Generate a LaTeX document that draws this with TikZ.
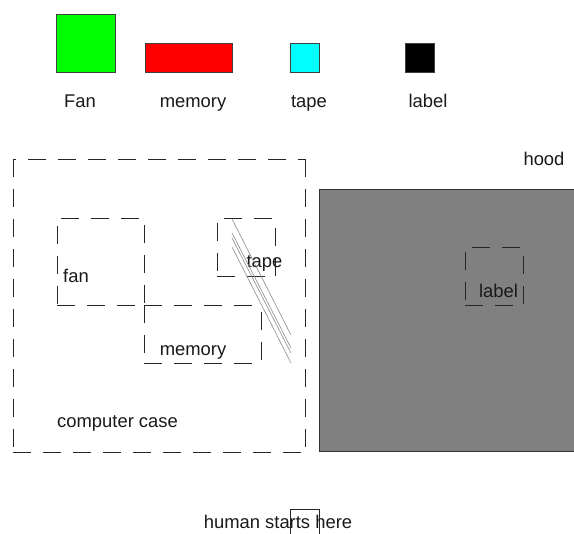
\documentclass[tikz,border=0pt]{standalone}
\usepackage{fontspec}
\setmainfont{Liberation Sans}
\definecolor{swgreen}{RGB}{0,255,0}
\definecolor{swred}{RGB}{255,0,0}
\definecolor{swcyan}{RGB}{0,255,255}
\definecolor{hoodgray}{RGB}{128,128,128}
\begin{document}
\begin{tikzpicture}[x=1pt,y=-1pt,
  txt/.style={font=\fontsize{18.4}{20}\selectfont, inner sep=0pt, anchor=base, text=black!90},
  swatch/.style={draw=black!75, line width=0.8pt},
  dsh/.style={draw=black!85, line width=0.9pt, dash pattern=on 18pt off 12pt, dash phase=#1},
  strap/.style={draw=black!45, line width=0.6pt}]
\clip (0,0) rectangle (574,534);
\fill[white] (0,0) rectangle (574,534);

% legend swatches
\draw[swatch, fill=swgreen] (56,14) rectangle (115,72);
\draw[swatch, fill=swred] (145,43) rectangle (232,72);
\draw[swatch, fill=swcyan] (290,43) rectangle (319,72);
\draw[swatch, fill=black] (405,43) rectangle (434,72);
\node[txt] (lfan) at (80,108) {Fan};
\node[txt] (lmem) at (193,108) {memory};
\node[txt] (ltape) at (309,108) {tape};
\node[txt] (llabel) at (428,108) {label};

% hood panel
\draw[fill=hoodgray, draw=black!80, line width=0.8pt] (319,189) rectangle (580,451);
\node[txt] (hood) at (544,166) {hood};

% computer case outline
\draw[dsh=15] (13,159) -- (305,159);
\draw[dsh=0] (13,159) -- (13,452);
\draw[dsh=0] (305,159) -- (305,452);
\draw[dsh=0] (13,452) -- (305,452);
\node[txt, anchor=base west] (case) at (57,428) {computer case};

% fan area
\draw[dsh=26] (57,218) -- (144,218);
\draw[dsh=22] (57,218) -- (57,305);
\draw[dsh=23] (144,218) -- (144,305);
\draw[dsh=0] (57,305) -- (144,305);
\node[txt, anchor=base west] (fan) at (63,283) {fan};

% memory area
\draw[dsh=0] (144,305) -- (261,305);
\draw[dsh=0] (144,305) -- (144,363);
\draw[dsh=23] (261,305) -- (261,363);
\draw[dsh=0] (144,363) -- (261,363);
\node[txt] (mem) at (193,356) {memory};

% tape area
\draw[dsh=23] (217,218) -- (275,218);
\draw[dsh=25] (217,218) -- (217,276);
\draw[dsh=20] (275,218) -- (275,276);
\draw[dsh=0] (217,276) -- (275,276);
\node[txt] (tape) at (264.5,268) {tape};

% tape strands
\draw[strap] (232,219) -- (291,335);
\draw[strap] (232,233) -- (291,348);
\draw[strap] (232,238) -- (291,353);
\draw[strap] (232,247) -- (291,363);

% label area on the hood
\draw[dsh=23] (465,247) -- (523,247);
\draw[dsh=25] (465,247) -- (465,305);
\draw[dsh=21] (523,247) -- (523,305);
\draw[dsh=0] (465,305) -- (523,305);
\node[txt] (lab) at (498.5,298) {label};

% start marker
\node[txt] (start) at (278,529) {human starts here};
\draw[black!85, line width=0.9pt] (290,540) -- (290,509) -- (319,509) -- (319,540);
\end{tikzpicture}
\end{document}
